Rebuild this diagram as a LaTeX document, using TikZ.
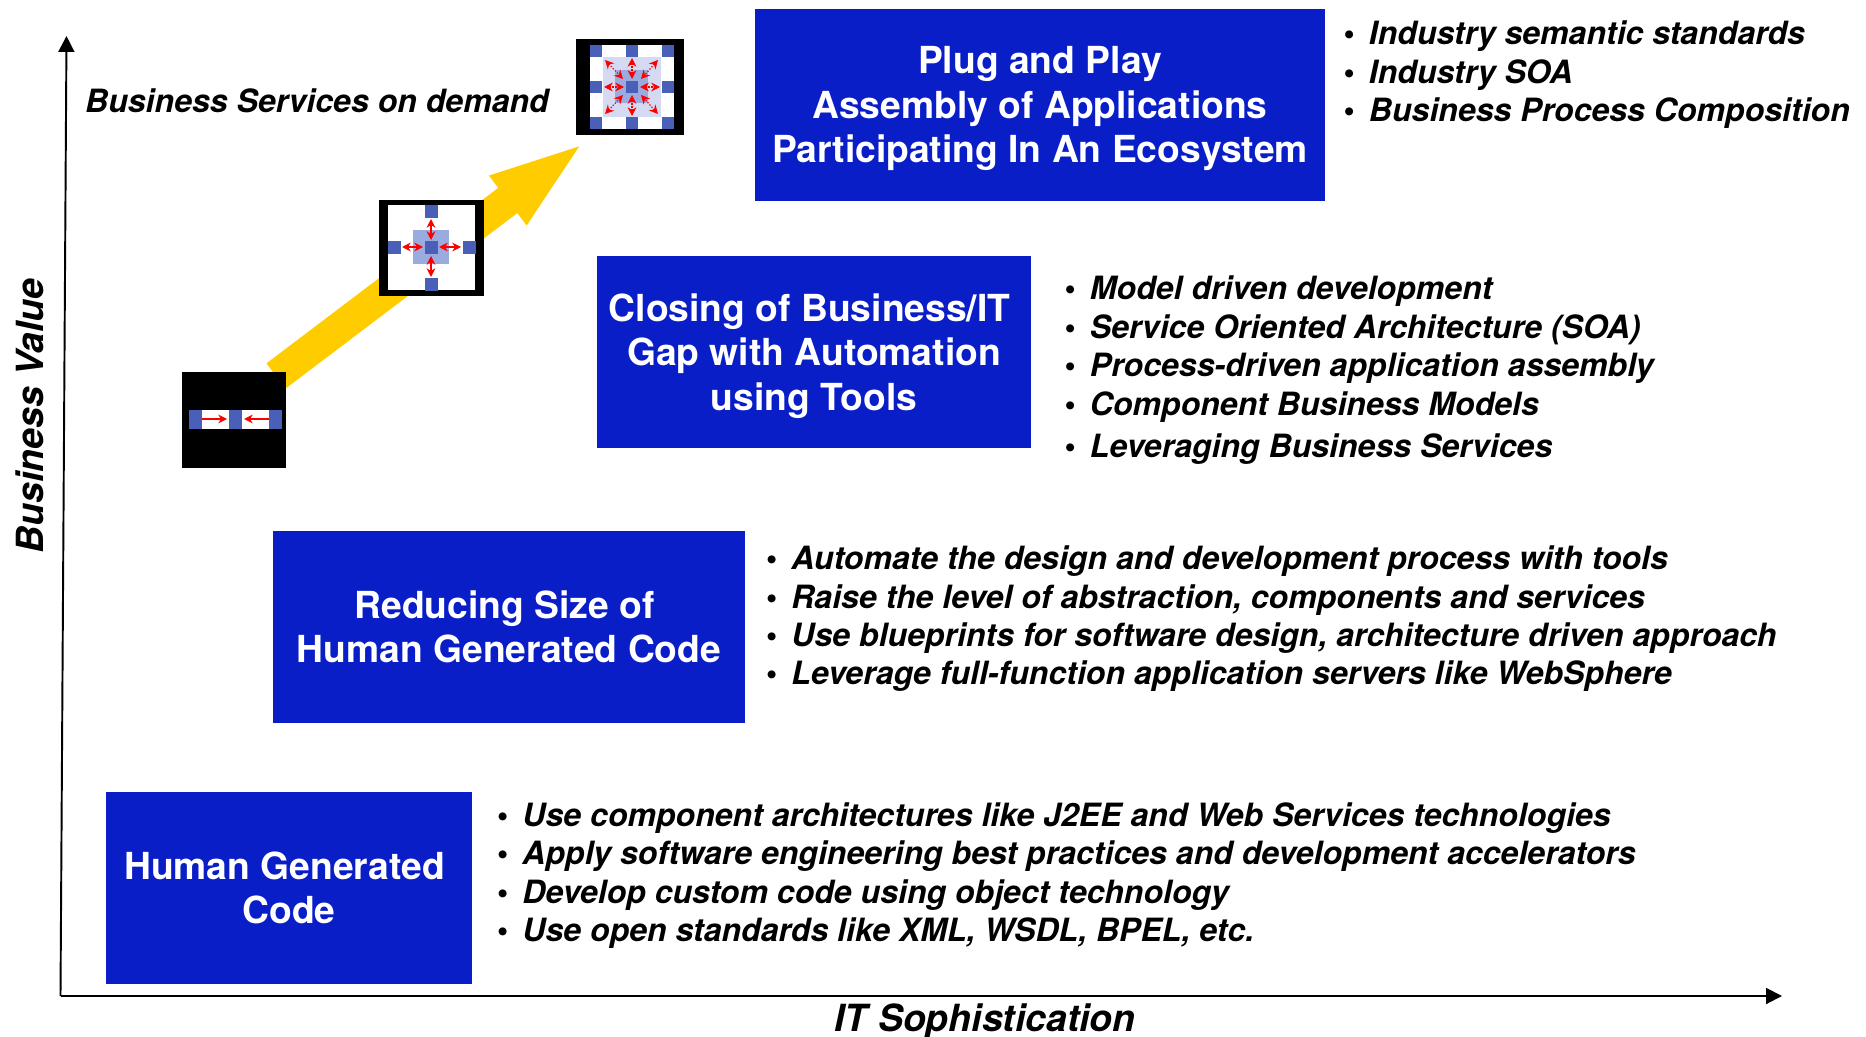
\documentclass[tikz,border=0pt]{standalone}
\usepackage{fontspec}
\setmainfont{TeX Gyre Heros}
\usetikzlibrary{positioning}
\usetikzlibrary{arrows.meta}
\definecolor{boxblue}{HTML}{0A1EC8}
\definecolor{arrowyellow}{HTML}{FFCC00}
\definecolor{iconblue}{HTML}{4A60B8}
\definecolor{iconmid}{HTML}{9AABE0}
\definecolor{iconlight}{HTML}{D5D9F2}
\newcommand{\listbullet}{\makebox[14.4pt][l]{\textup{•}}}
\newcommand{\stagepad}[1]{\rule{0pt}{#1}}
\tikzset{
    stage node/.style={fill=boxblue,text=white,font=\fontsize{21.2}{25.3}\selectfont\bfseries,align=center,inner sep=0pt},
    list node/.style={font=\fontsize{18.25}{21.85}\selectfont\bfseries\itshape,align=left,inner sep=0pt},
    axis label/.style={font=\fontsize{21.3}{24}\selectfont\bfseries\itshape,inner sep=0pt},
    axis line/.style={line width=1.1pt,-{Triangle[length=9pt,width=9pt]}},
    growth arrow/.style={arrowyellow,line width=18pt,-{Triangle[length=58pt,width=30pt]}},
    icon frame/.style={fill=black,inner sep=0pt},
    icon hole/.style={fill=white,inner sep=0pt},
    red arrow/.style={red,line width=0.7pt,{Stealth[length=5pt,width=5pt]}-{Stealth[length=5pt,width=5pt]}},
    red single/.style={red,line width=0.8pt,-{Stealth[length=5pt,width=5pt]}},
    red dotted/.style={red arrow,densely dotted},
}
\begin{document}
\begin{tikzpicture}[x=0.02cm,y=-0.02cm]
    \useasboundingbox (0,0) rectangle (1866,1037);

    % axes
    \coordinate (origin) at (60.5,996);
    \coordinate (ytip) at (66.5,36);
    \coordinate (xtip) at (1782,996);
    \draw[axis line] (origin) -- (ytip);
    \draw[axis line] (origin) -- (xtip);
    \node[axis label,rotate=90] (yname) at (30,416) {Business Value};
    \node[axis label] (xname) at (985,1021.5) {IT Sophistication};

    % stages
    \node[stage node,minimum width=7.32cm,minimum height=3.84cm] (human) at (289,888) {Human Generated\hspace*{5pt}\\Code};
    \node[stage node,minimum width=9.44cm,minimum height=3.84cm] (reduce) at (509,627) {Reducing Size of\hspace*{5pt}\\Human Generated Code};
    \node[stage node,minimum width=8.68cm,minimum height=3.84cm] (closing) at (814,352) {\stagepad{20.3pt}Closing of Business/IT\hspace*{5pt}\\Gap with Automation\hspace*{5pt}\\using Tools};
    \node[stage node,minimum width=11.4cm,minimum height=3.84cm] (plug) at (1040,105) {\stagepad{19.5pt}Plug and Play\\Assembly of Applications\hspace*{5pt}\\Participating In An Ecosystem};

    % lists
    \node[list node,right=0.49cm of human,yshift=0.25cm] (humanlist) {%
        \listbullet Use component architectures like J2EE and Web Services technologies\\
        \listbullet Apply software engineering best practices and development accelerators\\
        \listbullet Develop custom code using object technology\\
        \listbullet Use open standards like XML, WSDL, BPEL, etc.};
    \node[list node,right=0.41cm of reduce,yshift=0.16cm] (reducelist) {%
        \listbullet Automate the design and development process with tools\\
        \listbullet Raise the level of abstraction, components and services\\
        \listbullet Use blueprints for software design, architecture driven approach\\
        \listbullet Leverage full-function application servers like WebSphere};
    \node[list node,right=0.66cm of closing,yshift=-0.37cm] (closinglist) {%
        \listbullet Model driven development\\
        \listbullet Service Oriented Architecture (SOA)\\
        \listbullet Process-driven application assembly\\
        \listbullet Component Business Models\\[2.5pt]
        \listbullet Leveraging Business Services};
    \node[list node,right=0.36cm of plug,yshift=0.6cm] (pluglist) {%
        \listbullet Industry semantic standards\\
        \listbullet Industry SOA\\
        \listbullet Business Process Composition};
    \node[list node] (demand) at (317,101) {Business Services on demand};

    % growth arrow
    \coordinate (growthstart) at (276,376);
    \coordinate (growthend) at (589,139);
    \draw[growth arrow] (growthstart) -- (growthend);

    % first icon
    \node[icon frame,minimum width=2.08cm,minimum height=1.92cm] (iconone) at (234,420) {};
    \node[icon hole,minimum width=1.86cm,minimum height=0.38cm] (holeone) at (235.5,419.5) {};
    \foreach \sx in {189,229,269} {
        \fill[iconblue] (\sx,410) rectangle +(13,19);
    }
    \coordinate (oneleft) at (202,419);
    \coordinate (onemidl) at (227,419);
    \coordinate (oneright) at (269,419);
    \coordinate (onemidr) at (244,419);
    \draw[red single] (oneleft) -- (onemidl);
    \draw[red single] (oneright) -- (onemidr);

    % second icon
    \node[icon frame,minimum width=2.1cm,minimum height=1.92cm] (icontwo) at (431.5,248) {};
    \node[icon hole,minimum width=1.74cm,minimum height=1.7cm] (holetwo) at (431.5,247.5) {};
    \fill[iconmid] (413,230) rectangle (449,264);
    \foreach \sx/\sy in {425/241,425/205,425/278,388/241,463/241} {
        \fill[iconblue] (\sx,\sy) rectangle +(13,13);
    }
    \foreach \ax/\ay/\bx/\by in {431/219/431/240,431/256/431/277,402/247/423/247,439/247/461/247} {
        \draw[red arrow] (\ax,\ay) -- (\bx,\by);
    }

    % third icon
    \node[icon frame,minimum width=2.16cm,minimum height=1.92cm] (iconthree) at (630,87) {};
    \node[icon hole,minimum width=1.68cm,minimum height=1.68cm] (holethree) at (632,87) {};
    \fill[iconlight] (603,57) rectangle (661,117);
    \fill[iconmid] (615,70) rectangle (648,103);
    \foreach \sx in {590,626,662} {
        \foreach \sy in {45,81,117} {
            \fill[iconblue] (\sx,\sy) rectangle +(12,12);
        }
    }
    \foreach \ax/\ay/\bx/\by in {632/58/632/79,632/95/632/116,604/87/624/87,640/87/660/87,
        605/60/623/79,658/60/641/79,605/114/623/95,658/114/641/95} {
        \draw[red dotted] (\ax,\ay) -- (\bx,\by);
    }
\end{tikzpicture}
\end{document}
